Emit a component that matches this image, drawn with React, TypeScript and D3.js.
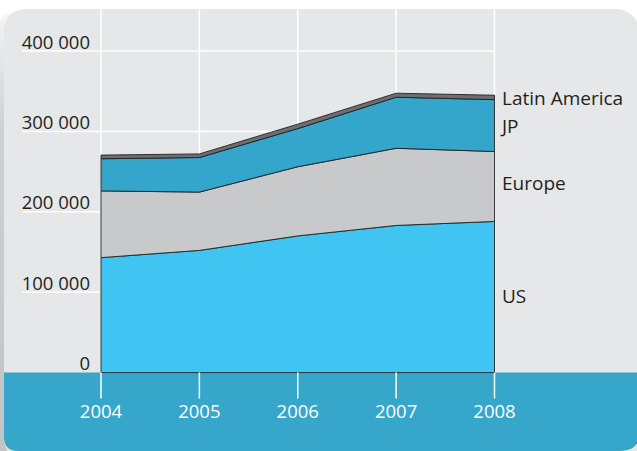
import React from "react";
import * as d3 from "d3";

const years = [2004, 2005, 2006, 2007, 2008];
const seriesNames = ["US", "Europe", "JP", "Latin America"];
const usValues = [143000, 152000, 170000, 183000, 188000];
const europeValues = [83000, 72500, 86000, 96000, 87000];
const jpValues = [40000, 43000, 47500, 63500, 64500];
const latinAmericaValues = [4500, 4500, 5500, 5000, 5500];
const yTicks = [0, 100000, 200000, 300000, 400000];

const W = 637;
const H = 451;
const FONT = "'Open Sans', 'Noto Sans', sans-serif";
const TEXT = "#231f20";
const PANEL = "#e6e7e8";
const BAND = "#36a6cb";
const colors: Record<string, string> = {
  US: "#40c5f2",
  Europe: "#c8c9cb",
  JP: "#34a6cc",
  "Latin America": "#6d6e71",
};
const labelNudge: Record<string, number> = { US: -1, Europe: -2.7, JP: 1.2, "Latin America": 0.6 };

const rows = years.map((yr, i) => ({
  year: yr,
  US: usValues[i],
  Europe: europeValues[i],
  JP: jpValues[i],
  "Latin America": latinAmericaValues[i],
}));

const fmt = d3.formatLocale({ decimal: ".", thousands: " ", grouping: [3], currency: ["", ""] }).format(",d");

export default function App() {
  const x = d3.scaleLinear().domain([2004, 2008]).range([101, 494.5]);
  const y = d3.scaleLinear().domain([0, 400000]).range([372.6, 51]);
  const stacked = d3.stack<any>().keys(seriesNames)(rows);
  const area = d3
    .area<any>()
    .x((d: any) => x(d.data.year))
    .y0((d: any) => y(d[0]))
    .y1((d: any) => y(d[1]))
    .curve(d3.curveLinear);

  const bandTop = y(0);
  const last = years.length - 1;
  const R = W + 3;

  return (
    <svg
      width={W}
      height={H}
      style={{ position: "fixed", left: 0, top: 0, display: "block", background: "#ffffff" }}
      fontFamily={FONT}
    >
      <defs>
        <linearGradient id="shadowGrad" x1="0" y1="0" x2="0" y2="1">
          <stop offset="0" stopColor="#f4f4f5" />
          <stop offset="0.25" stopColor="#cfd0d2" />
          <stop offset="1" stopColor="#c2c3c5" />
        </linearGradient>
        <filter id="blur" x="-50%" y="-10%" width="200%" height="120%">
          <feGaussianBlur stdDeviation="1.2" />
        </filter>
        <clipPath id="panelClip">
          <rect x={4} y={9} width={W + 30} height={H} rx={21} ry={21} />
        </clipPath>
      </defs>
      {/* shadow */}
      <rect x={-4} y={14} width={30} height={H} rx={18} ry={18} fill="url(#shadowGrad)" filter="url(#blur)" />
      {/* panel */}
      <rect x={4} y={9} width={W + 30} height={H} rx={21} ry={21} fill={PANEL} />
      {/* top-right rounded corner */}
      <path d={`M ${R - 24} 8 L ${W + 1} 8 L ${W + 1} 32 L ${R} 32 A 24 24 0 0 0 ${R - 24} 9 Z`} fill="#ffffff" />
      {/* bottom band */}
      <path
        d={`M 4 ${bandTop} L ${R} ${bandTop} L ${R} ${H - 20} Q ${R} ${H} ${R - 20} ${H} L 18 ${H} Q 4 ${H} 4 ${H - 14} Z`}
        fill={BAND}
      />
      {/* vertical grid */}
      {years.map((yr) => (
        <line key={"vg" + yr} x1={x(yr)} x2={x(yr)} y1={9} y2={bandTop} stroke="#ffffff" strokeWidth={1.5} />
      ))}
      {/* horizontal grid */}
      {yTicks.filter((t) => t > 0).map((t) => (
        <line key={"hg" + t} x1={22} x2={x(2008)} y1={y(t)} y2={y(t)} stroke="#ffffff" strokeWidth={1.5} />
      ))}
      {/* y labels */}
      {yTicks.map((t) => (
        <text key={"yl" + t} x={90} y={y(t) - 2.5} textAnchor="end" fontSize={18.5} fill={TEXT}>
          {fmt(t)}
        </text>
      ))}
      {/* areas */}
      {stacked.map((s) => (
        <path
          key={s.key}
          d={area(s as any) || ""}
          fill={colors[s.key]}
          stroke={TEXT}
          strokeWidth={0.9}
          strokeLinejoin="round"
        />
      ))}
      {/* x ticks */}
      {years.map((yr) => (
        <g key={"xt" + yr}>
          <line x1={x(yr)} x2={x(yr)} y1={bandTop} y2={398.5} stroke="#ffffff" strokeWidth={1.5} />
          <text x={x(yr)} y={418.3} textAnchor="middle" fontSize={18.5} fill="#ffffff">
            {yr}
          </text>
        </g>
      ))}
      {/* series labels */}
      {stacked.map((s) => {
        const d = s[last];
        const mid = (y(d[0]) + y(d[1])) / 2;
        return (
          <text key={"sl" + s.key} x={502} y={mid + 6.5 + labelNudge[s.key]} fontSize={19} fill={TEXT}>
            {s.key}
          </text>
        );
      })}
    </svg>
  );
}
